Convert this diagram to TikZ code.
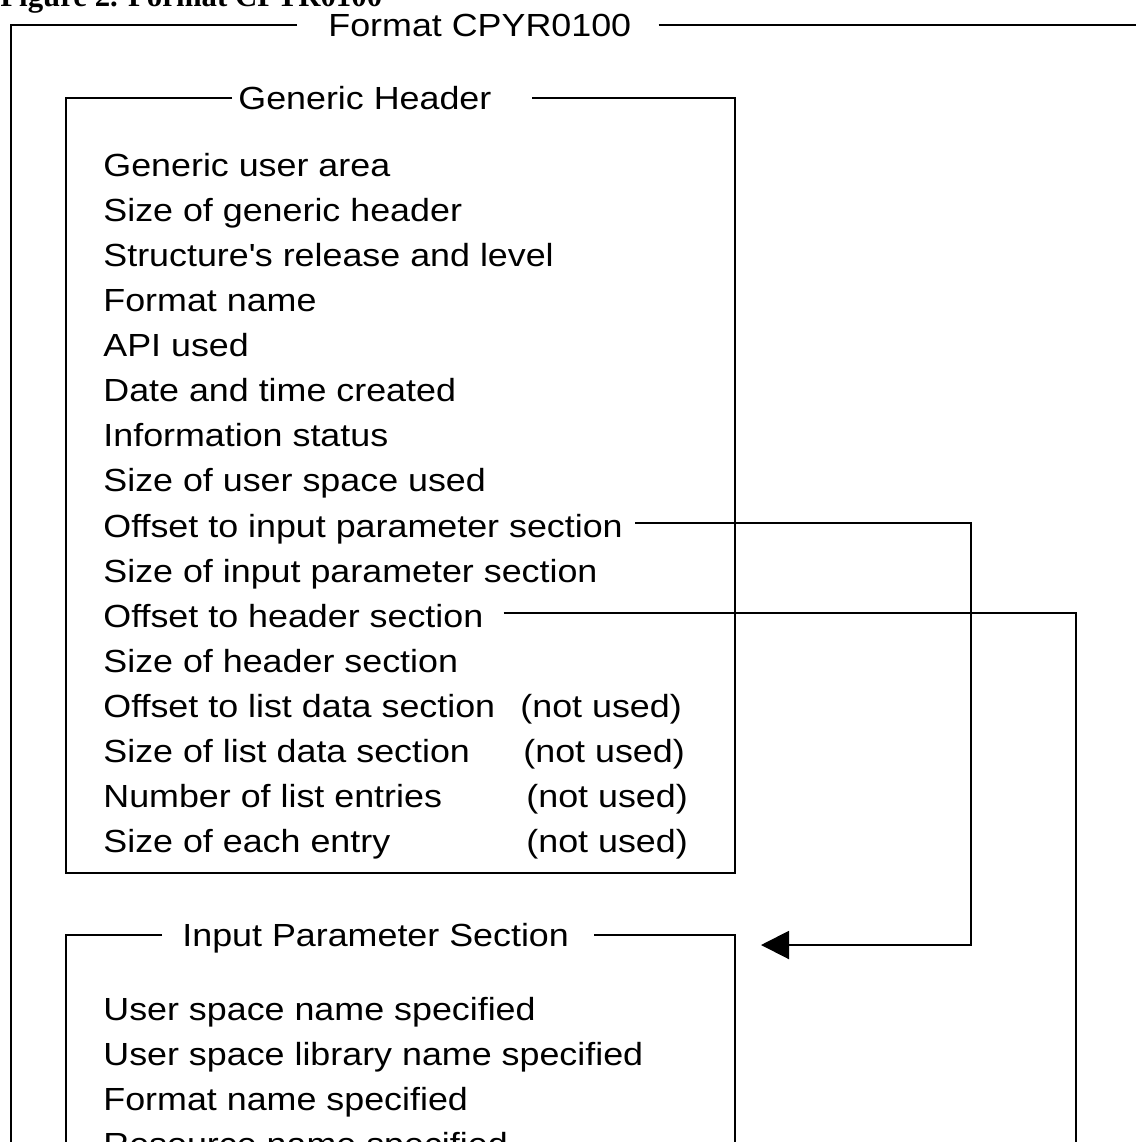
\documentclass[tikz,border=0pt]{standalone}
\usepackage{fontspec}
\setmainfont{Liberation Sans}[FakeStretch=1.12]
\newfontfamily\capfont{Liberation Serif}
\usetikzlibrary{arrows.meta,
                calc,
                positioning}
\tikzset{
	entry/.style={anchor=base west,inner sep=0pt,font=\fontsize{16pt}{18pt}\selectfont},
	boxtitle/.style={anchor=west,inner sep=0pt,text height=11.5pt,text depth=0pt,font=\fontsize{16pt}{18pt}\selectfont},
	frame/.style={line width=1pt},
	link/.style={line width=1pt},
	linkarrow/.style={link,-{Triangle[length=14pt,width=14pt]}}
}

\begin{document}
\begin{tikzpicture}[x=0.5pt,y=-0.5pt]
	\useasboundingbox (0,0) rectangle (1136,1142);
	\node[entry,font=\capfont\bfseries\fontsize{15.4pt}{17pt}\selectfont] (caption) at (0,6) {Figure 2. Format CPYR0100};
	% outer format frame
	\node[boxtitle] (fmt) at (328,25) {Format CPYR0100};
	\draw[frame] ([xshift=-15.5pt]fmt.west) -- (11,25) -- (11,1160);
	\draw[frame] ([xshift=13.5pt]fmt.east) -- (1160,25);
	% generic header
	\node[boxtitle] (gh) at (238,98) {Generic Header};
	\draw[frame] ([xshift=-3pt]gh.west) -- (66,98) -- (66,873) -- (735,873) -- (735,98) -- ([xshift=20pt]gh.east);
	\foreach \t [count=\i] in {Generic user area, Size of generic header, Structure\textquotesingle s release and level,
		Format name, API used, Date and time created, Information status, Size of user space used,
		Offset to input parameter section, Size of input parameter section, Offset to header section,
		Size of header section, Offset to list data section, Size of list data section,
		Number of list entries, Size of each entry}{%
	  \node[entry] (gh-\i) at (103,{176+45.13*(\i-1)}) {\t};
	}
	\foreach \x/\i in {520/13,523/14,526/15,526/16}{%
	  \node[entry] (nu-\i) at (\x,{176+45.13*(\i-1)}) {(not used)};
	}
	% input parameter section
	\node[boxtitle] (ip) at (182,935) {Input Parameter Section};
	\draw[frame] ([xshift=-10pt]ip.west) -- (66,935) -- (66,1160);
	\draw[frame] ([xshift=12.5pt]ip.east) -- (735,935) -- (735,1160);
	\foreach \t [count=\i] in {User space name specified, User space library name specified,
		Format name specified, Resource name specified}{%
	  \node[entry] (ip-\i) at (103,{1020+45*(\i-1)}) {\t};
	}
	% offsets
	\coordinate (ip-in) at (761,945);
	\coordinate (bend-a) at (971,945);
	\coordinate (bend-b) at (1076,1160);
	\draw[linkarrow] ([xshift=6pt,yshift=7pt]gh-9.base east) -| (bend-a) -- (ip-in);
	\draw[link] ([xshift=10pt,yshift=7pt]gh-11.base east) -| (bend-b);
\end{tikzpicture}
\end{document}
